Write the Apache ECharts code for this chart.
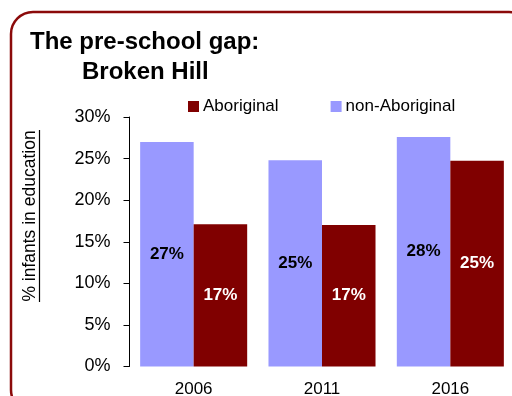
<!DOCTYPE html>
<html>
<head>
<meta charset="utf-8">
<script src="https://cdn.jsdelivr.net/npm/echarts@6/dist/echarts.min.js"></script>
<style>
html,body{margin:0;padding:0;background:#fff;}
#chart{width:512px;height:396px;}
</style>
</head>
<body>
<div id="chart"></div>
<script>
var categories = ['2006', '2011', '2016'];
var nonAboriginal = [27.0, 24.8, 27.6];
var aboriginal = [17.1, 17.0, 24.75];
var yTicks = [0, 5, 10, 15, 20, 25, 30];
var seriesNames = ['Aboriginal', 'non-Aboriginal'];
var titleLines = ['The pre-school gap:', 'Broken Hill'];
var yAxisTitle = '% infants in education';

var FONT = '"Liberation Sans", Arial, Helvetica, sans-serif';
var chart = echarts.init(document.getElementById('chart'), null, {renderer: 'canvas'});

chart.setOption({
  animation: false,
  backgroundColor: '#ffffff',
  title: [
    {text: titleLines[0], left: 30, top: 30, padding: 0,
     textStyle: {fontFamily: FONT, fontSize: 24, fontWeight: 'bold', color: '#000'}},
    {text: titleLines[1], left: 82, top: 60, padding: 0,
     textStyle: {fontFamily: FONT, fontSize: 24, fontWeight: 'bold', color: '#000'}}
  ],
  legend: {
    data: seriesNames,
    left: 188, top: 98, padding: 0,
    itemWidth: 11, itemHeight: 11, itemGap: 52, icon: 'rect',
    textStyle: {fontFamily: FONT, fontSize: 17, color: '#000', padding: [0, 0, 0, -1]}
  },
  grid: {left: 129.5, top: 117, width: 385, height: 249.5, containLabel: false, outerBoundsMode: 'none'},
  xAxis: {
    type: 'category',
    data: categories,
    axisLine: {show: false},
    axisTick: {show: false},
    axisLabel: {fontFamily: FONT, fontSize: 17, color: '#000', margin: 14}
  },
  yAxis: {
    type: 'value',
    min: yTicks[0], max: yTicks[yTicks.length - 1], interval: 5,
    axisLine: {show: true, lineStyle: {color: '#000', width: 1}},
    axisTick: {show: true, length: 6, lineStyle: {color: '#000'}},
    splitLine: {show: false},
    axisLabel: {fontFamily: FONT, fontSize: 18, color: '#000', margin: 19,
                formatter: function (v) { return v + '%'; }}
  },
  series: [
    {
      name: seriesNames[1], type: 'bar', data: nonAboriginal,
      barGap: '0%', barCategoryGap: '16.6%',
      itemStyle: {color: '#9999ff'},
      label: {show: true, position: 'inside', fontFamily: FONT, fontSize: 17, fontWeight: 'bold', color: '#000',
              formatter: function (p) { return Math.round(p.value) + '%'; }}
    },
    {
      name: seriesNames[0], type: 'bar', data: aboriginal,
      barGap: '0%', barCategoryGap: '16.6%',
      itemStyle: {color: '#800000'},
      label: {show: true, position: 'inside', fontFamily: FONT, fontSize: 17, fontWeight: 'bold', color: '#fff',
              formatter: function (p) { return Math.round(p.value) + '%'; }}
    }
  ],
  graphic: [
    {type: 'rect', z: 100, silent: true,
     shape: {x: 11, y: 12, width: 520, height: 400, r: 22},
     style: {fill: 'none', stroke: '#8b0a0a', lineWidth: 2.5}},
    {type: 'text', x: 30, y: 216, rotation: Math.PI / 2, silent: true,
     style: {text: yAxisTitle, fontFamily: FONT, fontSize: 17.5, fill: '#000',
             align: 'center', verticalAlign: 'middle'}},
    {type: 'line', silent: true,
     shape: {x1: 39.5, y1: 130, x2: 39.5, y2: 302},
     style: {stroke: '#000', lineWidth: 1.2}}
  ]
});
</script>
</body>
</html>
